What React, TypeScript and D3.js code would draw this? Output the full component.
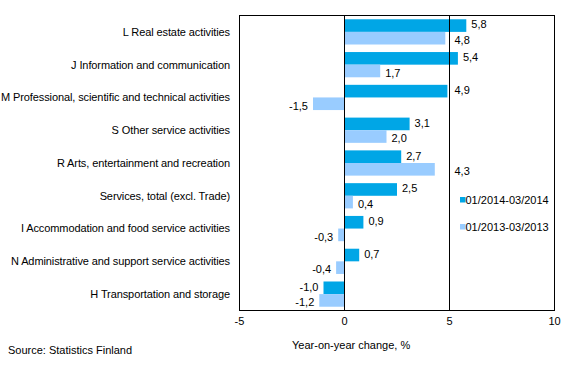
import * as d3 from "d3"

const categories = [
  "L Real estate activities",
  "J Information and communication",
  "M Professional, scientific and technical activities",
  "S Other service activities",
  "R Arts, entertainment and recreation",
  "Services, total (excl. Trade)",
  "I Accommodation and food service activities",
  "N Administrative and support service activities",
  "H Transportation and storage",
]
const series2014 = [5.8, 5.4, 4.9, 3.1, 2.7, 2.5, 0.9, 0.7, -1.0]
const series2013 = [4.8, 1.7, -1.5, 2.0, 4.3, 0.4, -0.3, -0.4, -1.2]
const seriesNames = ["01/2014-03/2014", "01/2013-03/2013"]
const xTicks = [-5, 0, 5, 10]
const gridTicks = [0, 5]

const W = 569
const H = 374
const left = 239.5
const right = 554.5
const top = 15.5
const bottom = 310.5
const colors = ["#00A6E6", "#99CCFF"]
const font = "Liberation Sans, Arial, sans-serif"

const fmt = (v: number) => v.toFixed(1).replace(".", ",")

export default function App() {
  const x = d3.scaleLinear().domain([-5, 10]).range([left, right])
  const y = d3
    .scaleBand()
    .domain(categories)
    .range([top, bottom])
    .paddingInner(0.23)
    .paddingOuter(0.115)
  const sub = d3.scaleBand().domain(["0", "1"]).range([0, y.bandwidth()])

  const series = [series2014, series2013]

  // keep value labels off the gridline at 5
  const labelX = (v: number) => {
    if (v < 0) return x(v) - 5
    const lx = x(v) + 5
    const g = x(5)
    if (lx < g + 3 && lx + 17 > g) return g + 5
    return lx
  }

  return (
    <svg
      width={W}
      height={H}
      style={{ position: "absolute", left: 0, top: 0, fontFamily: font }}
    >
      <rect x={0} y={0} width={W} height={H} fill="white" />
      {series.map((vals, si) =>
        vals.map((v, i) => {
          const y0 = (y(categories[i]) || 0) + (sub(String(si)) || 0)
          const x0 = Math.min(x(0), x(v))
          const w = Math.abs(x(v) - x(0))
          return (
            <g key={`${si}-${i}`}>
              <rect
                x={x0}
                y={y0}
                width={w}
                height={sub.bandwidth()}
                fill={colors[si]}
              />
              <text
                x={labelX(v)}
                y={y0 + sub.bandwidth() / 2 + (si === 0 ? -1 : 2)}
                dy="0.35em"
                fontSize={11}
                textAnchor={v >= 0 ? "start" : "end"}
              >
                {fmt(v)}
              </text>
            </g>
          )
        }),
      )}
      {gridTicks.map((t) => (
        <line
          key={t}
          x1={x(t)}
          x2={x(t)}
          y1={top}
          y2={bottom}
          stroke="black"
        />
      ))}
      <rect
        x={left}
        y={top}
        width={right - left}
        height={bottom - top}
        fill="none"
        stroke="black"
      />
      {xTicks.map((t) => (
        <text
          key={t}
          x={x(t)}
          y={bottom + 11}
          dy="0.35em"
          fontSize={11}
          textAnchor="middle"
        >
          {t}
        </text>
      ))}
      {categories.map((c) => (
        <text
          key={c}
          x={230}
          y={(y(c) || 0) + y.bandwidth() / 2}
          dy="0.35em"
          fontSize={11}
          textAnchor="end"
          letterSpacing={-0.1}
        >
          {c}
        </text>
      ))}
      {seriesNames.map((s, i) => (
        <g key={s}>
          <rect x={460} y={197 + i * 27} width={5.5} height={5.5} fill={colors[i]} />
          <text x={465.5} y={200 + i * 27} dy="0.35em" fontSize={11}>
            {s}
          </text>
        </g>
      ))}
      <text x={292} y={345} dy="0.35em" fontSize={11}>
        Year-on-year change, %
      </text>
      <text x={8} y={350} dy="0.35em" fontSize={11}>
        Source: Statistics Finland
      </text>
    </svg>
  )
}
